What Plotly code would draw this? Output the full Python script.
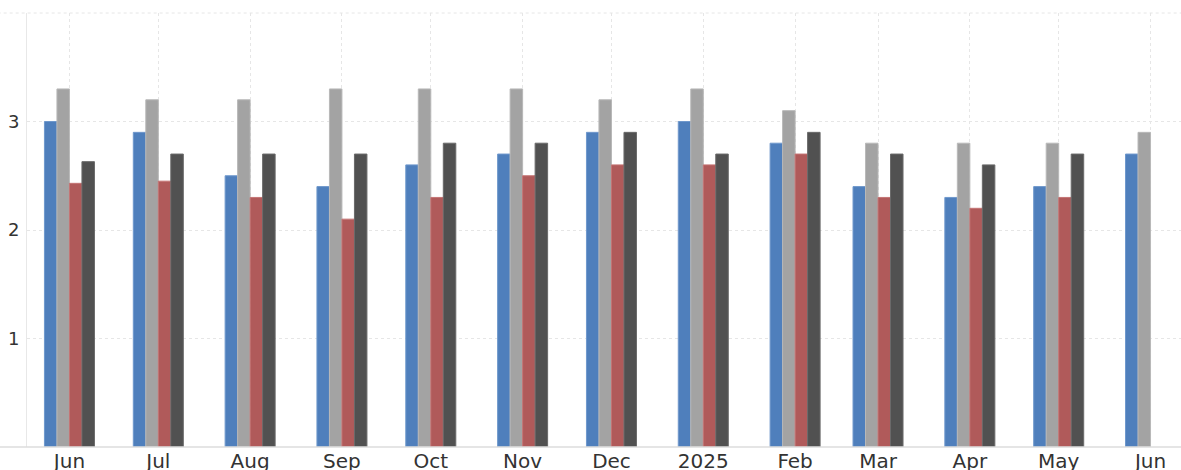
import plotly.graph_objects as go

months = ["2024-06-01", "2024-07-01", "2024-08-01", "2024-09-01", "2024-10-01",
          "2024-11-01", "2024-12-01", "2025-01-01", "2025-02-01", "2025-03-01",
          "2025-04-01", "2025-05-01", "2025-06-01"]
tick_labels = ["Jun", "Jul", "Aug", "Sep", "Oct", "Nov", "Dec", "2025",
               "Feb", "Mar", "Apr", "May", "Jun"]

series_a = [3.0, 2.9, 2.5, 2.4, 2.6, 2.7, 2.9, 3.0, 2.8, 2.4, 2.3, 2.4, 2.7]
series_b = [3.3, 3.2, 3.2, 3.3, 3.3, 3.3, 3.2, 3.3, 3.1, 2.8, 2.8, 2.8, 2.9]
series_c = [2.43, 2.45, 2.3, 2.1, 2.3, 2.5, 2.6, 2.6, 2.7, 2.3, 2.2, 2.3, None]
series_d = [2.63, 2.7, 2.7, 2.7, 2.8, 2.8, 2.9, 2.7, 2.9, 2.7, 2.6, 2.7, None]

series = [
    ("A", series_a, "#4f7fbc", "#6f98cc"),
    ("B", series_b, "#a3a3a3", "#b8b8b8"),
    ("C", series_c, "#b05a5a", "#c47474"),
    ("D", series_d, "#515151", "#6a6a6a"),
]

fig = go.Figure()
for name, vals, col, edge in series:
    fig.add_trace(go.Bar(
        x=months, y=vals, name=name,
        marker=dict(color=col, line=dict(color=edge, width=1)),
        showlegend=False,
    ))

W, H = 1181, 470
left_px = 27
x0 = left_px / W
grid_col = "#e6e6e6"

fig.update_layout(
    template="none",
    width=W, height=H,
    margin=dict(l=0, r=0, t=13, b=23, pad=0),
    paper_bgcolor="white", plot_bgcolor="white",
    barmode="group", bargap=0.397, bargroupgap=0,
    showlegend=False,
    xaxis=dict(
        type="date",
        domain=[x0, 1],
        range=["2024-05-17 16:00", "2025-06-11 07:00"],
        tickmode="array", tickvals=months, ticktext=tick_labels,
        showgrid=True, gridcolor=grid_col, griddash="dot", gridwidth=1,
        showline=False, ticks="", zeroline=False,
        automargin=False,
        tickfont=dict(family="DejaVu Sans", size=20, color="#333333"),
    ),
    yaxis=dict(
        range=[0, 4.0],
        tickmode="array", tickvals=[1, 2, 3, 4], ticktext=["1", "2", "3", ""],
        showgrid=True, gridcolor=grid_col, griddash="dot", gridwidth=1,
        showline=True, linecolor="#e8e8e8", linewidth=1,
        ticks="", zeroline=False, automargin=False,
        ticklabelstandoff=3,
        tickfont=dict(family="DejaVu Sans", size=18, color="#333333"),
    ),
    shapes=[
        dict(type="line", xref="paper", yref="paper",
             x0=(13 - left_px) / (W - left_px), x1=1, y0=0, y1=0,
             line=dict(color="#dcdcdc", width=1.5), layer="above"),
        dict(type="line", xref="paper", yref="paper",
             x0=(13 - left_px) / (W - left_px), x1=1, y0=1, y1=1,
             line=dict(color=grid_col, width=1, dash="dot"), layer="below"),
    ],
)

fig.write_html(
    "out.html",
    config={"displayModeBar": False},
    post_script="document.body.style.margin='0';document.body.style.overflow='hidden';",
)
